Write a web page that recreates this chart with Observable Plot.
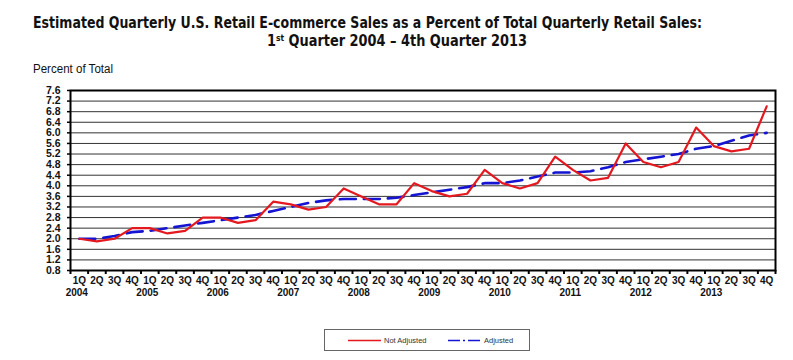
<!DOCTYPE html>
<html>
<head>
<meta charset="utf-8">
<script src="https://cdn.jsdelivr.net/npm/d3@7"></script>
<script src="https://cdn.jsdelivr.net/npm/@observablehq/plot@0.6"></script>
<style>
  html, body { margin: 0; padding: 0; background: #fff; overflow: hidden; }
  body { width: 793px; height: 360px; position: relative; }
  #head { position: absolute; left: 0; top: 0; }
  #chart { position: absolute; left: 0; top: 80px; }
  #chart svg { max-width: none; }
  #legend { position: absolute; left: 324px; top: 329px; width: 206px; height: 22px; border: 1px solid #666; box-sizing: border-box; }
  #legend svg { position: absolute; left: 0; top: 0; }
</style>
</head>
<body>
<div id="head"></div>
<div id="chart"></div>
<div id="legend"></div>
<script>
const titleLine1 = "Estimated Quarterly U.S. Retail E-commerce Sales as a Percent of Total Quarterly Retail Sales:";
const titleLine2 = ["1", "st", " Quarter 2004 – 4th Quarter 2013"];
const yAxisTitle = "Percent of Total";
const quarters = ["1Q", "2Q", "3Q", "4Q"];
const years = [2004, 2005, 2006, 2007, 2008, 2009, 2010, 2011, 2012, 2013];
const notAdjusted = [
  2.0, 1.9, 2.0, 2.4,
  2.4, 2.2, 2.3, 2.8,
  2.8, 2.6, 2.7, 3.4,
  3.3, 3.1, 3.2, 3.9,
  3.6, 3.3, 3.3, 4.1,
  3.8, 3.6, 3.7, 4.6,
  4.1, 3.9, 4.1, 5.1,
  4.6, 4.2, 4.3, 5.6,
  4.9, 4.7, 4.9, 6.2,
  5.5, 5.3, 5.4, 7.0
];
const adjusted = [
  2.0, 2.0, 2.1, 2.25,
  2.3, 2.4, 2.5, 2.6,
  2.7, 2.8, 2.9, 3.05,
  3.2, 3.35, 3.45, 3.5,
  3.5, 3.5, 3.55, 3.65,
  3.75, 3.85, 3.95, 4.1,
  4.1, 4.2, 4.35, 4.5,
  4.5, 4.55, 4.7, 4.9,
  5.0, 5.1, 5.2, 5.4,
  5.5, 5.7, 5.9, 6.0
];
const yTicks = [0.8, 1.2, 1.6, 2.0, 2.4, 2.8, 3.2, 3.6, 4.0, 4.4, 4.8, 5.2, 5.6, 6.0, 6.4, 6.8, 7.2, 7.6];
const seriesNames = ["Not Adjusted", "Adjusted"];
const colors = ["#e3191f", "#1414d2"];

const keys = years.flatMap(y => quarters.map(q => `${q} ${y}`));
const idx = keys.map((k, i) => i);
const rowsNA = keys.map((k, i) => ({i, key: k, v: notAdjusted[i]}));
const rowsA = keys.map((k, i) => ({i, key: k, v: adjusted[i]}));
const yearRows = years.map(y => ({i: keys.indexOf(`1Q ${y}`), label: String(y)}));
const boundaries = keys.map((k, i) => i - 0.5).concat([keys.length - 0.5]);

const FONT = "'Liberation Sans', Arial, Helvetica, sans-serif";

// heading (title + y-axis title)
const head = d3.select("#head").append("svg").attr("width", 793).attr("height", 80);
const tf = "'DejaVu Sans Condensed', 'DejaVu Sans', 'Liberation Sans', sans-serif";
head.append("text").attr("x", 33).attr("y", 28).attr("font-family", tf).attr("font-weight", "bold")
  .attr("font-size", 15.5).attr("fill", "#111").attr("textLength", 669).attr("lengthAdjust", "spacingAndGlyphs")
  .text(titleLine1);
const t2 = head.append("text").attr("x", 267).attr("y", 46.5).attr("font-family", tf).attr("font-weight", "bold")
  .attr("font-size", 15.5).attr("fill", "#111");
t2.append("tspan").text(titleLine2[0]);
t2.append("tspan").attr("font-size", 9).attr("dy", -5).text(titleLine2[1]);
t2.append("tspan").attr("dy", 5).text(titleLine2[2]);
{
  const node = t2.node();
  const w = node.getComputedTextLength();
  const target = 260;
  if (w > 0) t2.attr("transform", `translate(267,0) scale(${target / w},1) translate(-267,0)`);
}
head.append("text").attr("x", 33).attr("y", 72.5).attr("font-family", FONT).attr("font-size", 12)
  .attr("fill", "#111").attr("textLength", 80).attr("lengthAdjust", "spacingAndGlyphs").text(yAxisTitle);

const W = 793, ML = 70, MR = 18;

const chart = Plot.plot({
  width: W,
  height: 220,
  marginLeft: ML,
  marginRight: MR,
  marginTop: 10,
  marginBottom: 30,
  style: {fontFamily: FONT, fontSize: "10px", fontWeight: "bold", color: "#111", background: "#fff", overflow: "visible"},
  x: {type: "linear", domain: [-0.5, keys.length - 0.5], label: null},
  y: {domain: [0.8, 7.6], label: null},
  marks: [
    Plot.gridY(yTicks, {stroke: "#333", strokeOpacity: 1, strokeWidth: 1}),
    Plot.axisY(yTicks, {tickFormat: d => d.toFixed(1), tickSize: 3, tickPadding: 7, stroke: "#000", strokeWidth: 1.5, fontSize: 10.5, fontWeight: "bold", label: null}),
    Plot.axisX(idx, {tickFormat: i => keys[i].slice(0, 2), tickSize: 0, tickPadding: 6, fontSize: 10, fontWeight: "bold", label: null}),
    Plot.axisX(boundaries, {tickFormat: () => "", tickSize: 4, stroke: "#000", strokeWidth: 2, label: null}),
    Plot.text(yearRows, {x: "i", text: "label", frameAnchor: "bottom", lineAnchor: "top", dy: 18.5, dx: -2.5, fontSize: 10, fontWeight: "bold"}),
    Plot.line(rowsA, {x: "i", y: "v", stroke: colors[1], strokeWidth: 2.6, strokeDasharray: "16,8"}),
    Plot.line(rowsNA, {x: "i", y: "v", stroke: colors[0], strokeWidth: 2.2}),
    Plot.frame({stroke: "#000", strokeWidth: 2})
  ]
});
document.getElementById("chart").appendChild(chart);

// legend
const leg = d3.select("#legend").append("svg").attr("width", 206).attr("height", 22);
leg.append("line").attr("x1", 23).attr("x2", 56).attr("y1", 10.5).attr("y2", 10.5)
  .attr("stroke", colors[0]).attr("stroke-width", 1.6);
leg.append("text").attr("x", 59).attr("y", 13).text(seriesNames[0])
  .attr("font-family", FONT).attr("font-size", 7.5).attr("fill", "#333");
leg.append("line").attr("x1", 123).attr("x2", 156).attr("y1", 10.5).attr("y2", 10.5)
  .attr("stroke", colors[1]).attr("stroke-width", 1.6).attr("stroke-dasharray", "12,3,2,3");
leg.append("text").attr("x", 159).attr("y", 13).text(seriesNames[1])
  .attr("font-family", FONT).attr("font-size", 7.5).attr("fill", "#333");
</script>
</body>
</html>
